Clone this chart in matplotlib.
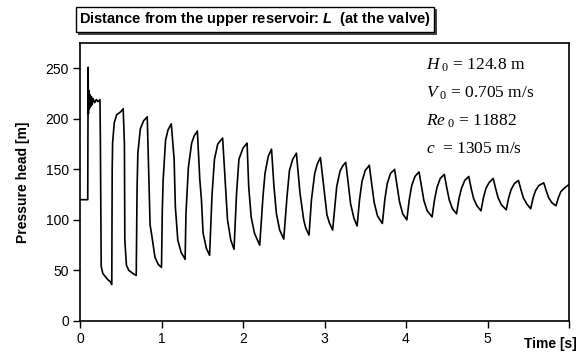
import matplotlib
matplotlib.use('Agg')
import matplotlib.pyplot as plt
from matplotlib.patches import Rectangle

plt.rcParams['font.family'] = ['Liberation Sans', 'DejaVu Sans']
plt.rcParams['mathtext.fontset'] = 'custom'
plt.rcParams['mathtext.rm'] = 'Liberation Serif'
plt.rcParams['mathtext.it'] = 'Liberation Serif:italic'
plt.rcParams['mathtext.sf'] = 'Liberation Sans:bold:italic'

time_s = [0.00, 0.095, 0.10, 0.103, 0.108, 0.115, 0.12, 0.13, 0.14, 0.15, 0.16, 0.18, 0.20, 0.22, 0.245,
          0.25, 0.26, 0.28, 0.31, 0.34, 0.37, 0.39, 0.395, 0.40, 0.42, 0.45, 0.50, 0.53,
          0.545, 0.55, 0.57, 0.60, 0.65, 0.69, 0.70, 0.71, 0.74, 0.78, 0.825,
          0.845, 0.86, 0.88, 0.92, 0.96, 1.00, 1.01, 1.02, 1.05, 1.08, 1.12,
          1.155, 1.17, 1.20, 1.24, 1.29, 1.30, 1.33, 1.37, 1.40, 1.44,
          1.47, 1.49, 1.51, 1.55, 1.59, 1.62, 1.65, 1.69, 1.75,
          1.78, 1.81, 1.85, 1.89, 1.92, 1.95, 2.00, 2.05,
          2.07, 2.10, 2.14, 2.205, 2.245, 2.27, 2.31, 2.35,
          2.38, 2.41, 2.45, 2.50, 2.54, 2.57, 2.61, 2.655,
          2.70, 2.745, 2.77, 2.81, 2.84, 2.88, 2.91, 2.95,
          2.99, 3.03, 3.06, 3.10, 3.15, 3.19, 3.22, 3.26,
          3.29, 3.32, 3.36, 3.40, 3.43, 3.46, 3.50, 3.55,
          3.58, 3.61, 3.65, 3.71, 3.74, 3.77, 3.81, 3.86,
          3.89, 3.92, 3.96, 4.01, 4.04, 4.07, 4.11, 4.16,
          4.19, 4.22, 4.26, 4.32, 4.35, 4.38, 4.42, 4.47,
          4.50, 4.53, 4.57, 4.62, 4.65, 4.68, 4.72, 4.77,
          4.80, 4.83, 4.87, 4.92, 4.95, 4.98, 5.02, 5.07,
          5.10, 5.13, 5.17, 5.23, 5.26, 5.29, 5.33, 5.38,
          5.41, 5.44, 5.48, 5.53, 5.56, 5.59, 5.63, 5.69,
          5.72, 5.75, 5.79, 5.84, 5.87, 5.90, 5.95, 6.00]
head_m = [120, 120, 251, 205, 228, 210, 224, 212, 222, 214, 220, 216, 219, 217, 219,
          180, 54, 47, 44, 41, 39, 36, 150, 176, 196, 204, 207, 210,
          175, 80, 55, 50, 47, 45, 130, 166, 190, 198, 202,
          140, 95, 85, 63, 56, 53, 110, 139, 179, 189, 195,
          160, 113, 80, 68, 61, 106, 152, 176, 183, 188,
          140, 120, 87, 72, 65, 125, 160, 175, 181,
          140, 100, 80, 71, 125, 160, 171, 176,
          133, 103, 87, 75, 123, 146, 163, 170,
          133, 106, 90, 81, 123, 149, 160, 166,
          126, 100, 92, 85, 120, 146, 155, 161.7,
          133, 105, 97, 90, 133, 148, 153, 157,
          137, 116, 102, 94, 120, 138, 149, 154,
          135, 117, 104, 96.5, 120, 136, 146, 150,
          134, 118, 106, 100, 120, 134, 143, 147.5,
          133, 119, 109, 103, 120, 132, 141, 145,
          132, 120, 111, 106, 121, 131, 139, 143,
          131, 121, 114, 109, 122, 131, 137, 141,
          131, 122, 115, 110, 122, 130, 136, 139,
          130, 122, 116, 111, 122, 129, 134, 136.7,
          129, 122, 117, 114, 122, 128, 132, 135]

x_ticks = [0, 1, 2, 3, 4, 5, 6]
x_labels = ['0', '1', '2', '3', '4', '5', '']
y_ticks = [0, 50, 100, 150, 200, 250]

params = [r'$\mathit{H}_{\ \mathit{0}}$ = 124.8 m',
          r'$\mathit{V}_{\ \mathit{0}}$ = 0.705 m/s',
          r'$\mathit{Re}_{\ \mathit{0}}$ = 11882',
          r'$\mathit{c}$  = 1305 m/s']

W, H = 580, 356
fig = plt.figure(figsize=(W / 100, H / 100), dpi=100)
ax = fig.add_axes([80 / W, 1 - 321 / H, (569 - 80) / W, (321 - 43) / H])

ax.plot(time_s, head_m, color='black', lw=1.2)
ax.set_xlim(0, 6)
ax.set_ylim(0, 275)
ax.set_xticks(x_ticks)
ax.set_xticklabels(x_labels)
ax.set_yticks(y_ticks)
ax.tick_params(direction='out', length=5, width=1, labelsize=10, colors='black', pad=3)
for s in ax.spines.values():
    s.set_linewidth(1.2)

fig.text(23 / W, 1 - 182 / H, 'Pressure head [m]', rotation=90, ha='center', va='center',
         fontsize=10, fontweight='bold')
fig.text(577 / W, 1 - 344 / H, 'Time [s]', ha='right', va='center', fontsize=10, fontweight='bold')

# boxed title with a drop shadow
title = r'Distance from the upper reservoir: $\mathsf{L}$  (at the valve)'
t = fig.text(255 / W, 1 - 19.5 / H, title, ha='center', va='center', fontsize=10.5,
             fontweight='bold', zorder=5,
             bbox=dict(boxstyle='square,pad=0.25', fc='white', ec='black', lw=1))
fig.canvas.draw()
bb = t.get_bbox_patch().get_window_extent()
fig.patches.append(Rectangle((bb.x0 + 2.5, bb.y0 - 2.5), bb.width, bb.height,
                             transform=None, fc='#444444', ec='none', zorder=4))

for i, p in enumerate(params):
    fig.text(426 / W, 1 - (65 + i * 28) / H, p, ha='left', va='center', fontsize=12.5,
             family='Liberation Serif')

fig.savefig('out.png', dpi=100)
